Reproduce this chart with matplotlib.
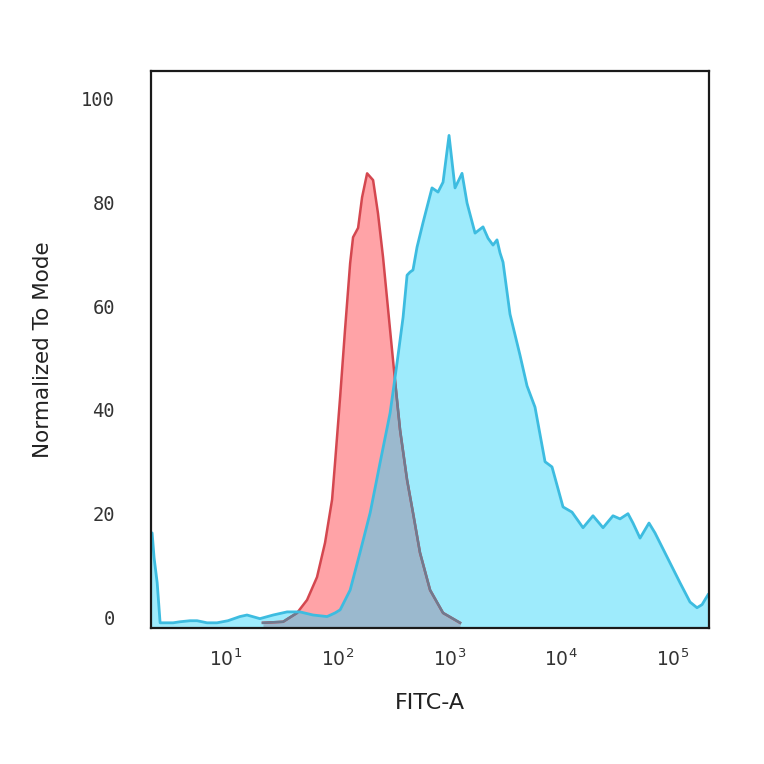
import numpy as np
import matplotlib
matplotlib.use("Agg")
import matplotlib.pyplot as plt
from matplotlib.ticker import FixedLocator, FuncFormatter, NullLocator
from matplotlib.transforms import ScaledTranslation

# ---- data ----
blue_x = [2.13, 2.18, 2.27, 2.42, 2.57, 2.90, 3.36, 3.87, 4.76, 5.50, 6.76, 8.30,
          10.4, 13.3, 15.4, 20.1, 26.4, 35.2, 45.9, 60.1, 80.2, 94.5, 105, 129,
          158, 195, 239, 294, 339, 384, 417, 443, 471, 512, 579, 629, 697, 789,
          875, 990, 1120, 1294, 1435, 1692, 1994, 2213, 2451, 2661, 2831, 3013,
          3478, 4274, 4939, 5823, 7159, 8264, 10370, 12480, 15660, 19230, 23650,
          29040, 33570, 39560, 43850, 50700, 60980, 69000, 88350, 115600, 142000,
          164000, 182000, 205700]
blue_y = [17.3, 17.3, 12.5, 7.7, 0.0, 0.0, 0.0, 0.2, 0.4, 0.4, 0.0, 0.0,
          0.4, 1.2, 1.5, 0.8, 1.5, 2.1, 2.1, 1.5, 1.2, 1.9, 2.5, 6.3,
          13.5, 21.2, 30.8, 40.4, 50.0, 58.8, 66.9, 67.5, 67.9, 72.3, 77.0, 80.0, 83.7, 82.9,
          84.8, 93.8, 83.7, 86.5, 80.8, 75.0, 76.2, 74.0, 72.7, 73.7, 71.2, 69.4,
          59.4, 51.5, 45.6, 41.5, 31.0, 30.0, 22.3, 21.3, 18.3, 20.6, 18.3,
          20.6, 20.0, 21.0, 19.2, 16.3, 19.2, 17.3, 12.7, 7.7, 4.0,
          2.9, 3.5, 5.4]

red_x = [21.4, 32.4, 43.2, 53.1, 65.2, 76.9, 88.9, 94.5, 105, 116, 129, 137, 152,
         165, 183, 207, 229, 254, 294, 325, 361, 417, 471, 544, 670, 875, 1242]
red_y = [0.0, 0.2, 1.9, 4.4, 8.8, 15.4, 23.7, 30.8, 43.5, 56.3, 69.2, 74.2, 76.0,
         81.9, 86.5, 85.2, 78.8, 70.4, 56.3, 46.7, 37.1, 27.5, 21.2, 13.5, 6.3, 1.9, 0.0]

y_ticks = [0, 20, 40, 60, 80, 100]
x_ticks = [1e1, 1e2, 1e3, 1e4, 1e5]

# ---- styling ----
plt.rcParams['mathtext.fontset'] = 'custom'
plt.rcParams['mathtext.rm'] = 'DejaVu Sans Mono'
plt.rcParams['mathtext.it'] = 'DejaVu Sans Mono'

fig = plt.figure(figsize=(7.64, 7.64), dpi=100)
ax = fig.add_axes([151/764, 136/764, 558/764, 557/764])

red_fill = '#FFA3A7'
red_line = '#D4474F'
blue_fill = '#9EEBFC'
blue_line = '#3DBCE0'
overlap_fill = '#9BB9CE'
overlap_line = '#6E7B90'

bottom = -1.0
# red histogram
ax.fill_between(red_x, bottom, red_y, color=red_fill, lw=0, zorder=1)
# blue histogram
bpoly = ax.fill_between(blue_x, bottom, blue_y, color=blue_fill, lw=0, zorder=2)
# overlap region: red clipped by blue area
ov = ax.fill_between(red_x, bottom, red_y, color=overlap_fill, lw=0, zorder=3)
clip_path = bpoly.get_paths()[0]
ov.set_clip_path(clip_path, ax.transData)

ax.plot(blue_x, blue_y, color=blue_line, lw=2.0, zorder=5, solid_joinstyle='round')
ax.plot(red_x, red_y, color=red_line, lw=1.8, zorder=4, solid_joinstyle='round')
rl2, = ax.plot(red_x, red_y, color=overlap_line, lw=1.8, zorder=4.5, solid_joinstyle='round')
rl2.set_clip_path(clip_path, ax.transData)

ax.set_xscale('log')
ax.set_xlim(2.13, 2.1e5)
ax.set_ylim(-1.0, 106.2)

ax.xaxis.set_major_locator(FixedLocator(x_ticks))
ax.xaxis.set_minor_locator(NullLocator())
ax.xaxis.set_major_formatter(FuncFormatter(lambda v, p: r'$\mathregular{10^{%d}}$' % round(np.log10(v))))
ax.set_yticks(y_ticks)

ax.tick_params(axis='both', length=0, labelsize=13.5, labelcolor='#333333')
ax.tick_params(axis='x', pad=15)
ax.tick_params(axis='y', pad=26)
for lab in ax.get_yticklabels():
    lab.set_fontfamily('DejaVu Sans Mono')
    lab.set_transform(lab.get_transform() + ScaledTranslation(0, 5/100, fig.dpi_scale_trans))

for s in ax.spines.values():
    s.set_linewidth(1.6)
    s.set_color('#1a1a1a')
    s.set_zorder(10)

ax.set_xlabel('FITC-A', fontsize=16, color='#222222', labelpad=16)
ax.set_ylabel('Normalized To Mode', fontsize=15.5, color='#222222', labelpad=20)

fig.savefig('out.png', dpi=100, facecolor='white')
